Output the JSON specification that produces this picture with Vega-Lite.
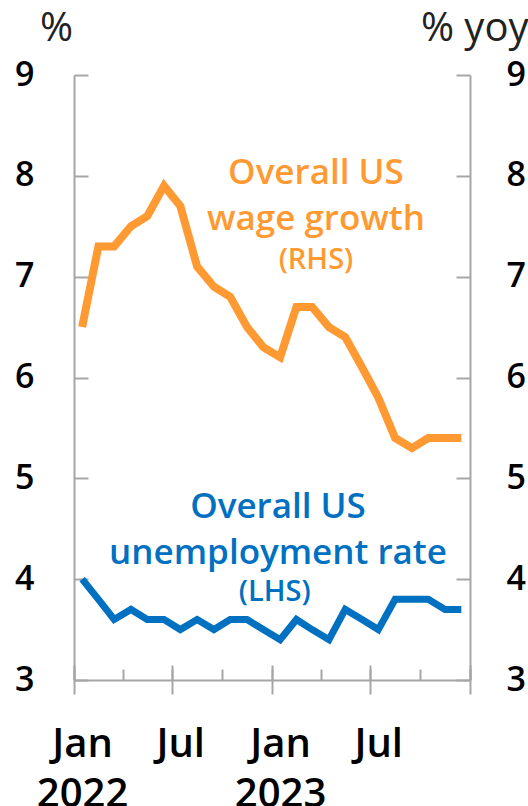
{
  "$schema": "https://vega.github.io/schema/vega-lite/v6.json",
  "width": 396,
  "height": 605,
  "autosize": {"type": "none"},
  "padding": {"left": 74, "top": 75, "right": 58, "bottom": 126},
  "background": "white",
  "config": {
    "view": {"stroke": null},
    "font": "Open Sans",
    "axis": {"grid": false, "domainColor": "#A6A6A6", "tickColor": "#A6A6A6", "domainWidth": 2, "tickWidth": 2, "labelColor": "#000000", "titleColor": "#222222"}
  },
  "datasets": {
    "series": [
      {"month": "2022-01-16", "unemployment": 4.0, "wage": 6.5},
      {"month": "2022-02-15", "unemployment": 3.8, "wage": 7.3},
      {"month": "2022-03-16", "unemployment": 3.6, "wage": 7.3},
      {"month": "2022-04-16", "unemployment": 3.7, "wage": 7.5},
      {"month": "2022-05-16", "unemployment": 3.6, "wage": 7.6},
      {"month": "2022-06-16", "unemployment": 3.6, "wage": 7.9},
      {"month": "2022-07-16", "unemployment": 3.5, "wage": 7.7},
      {"month": "2022-08-16", "unemployment": 3.6, "wage": 7.1},
      {"month": "2022-09-16", "unemployment": 3.5, "wage": 6.9},
      {"month": "2022-10-16", "unemployment": 3.6, "wage": 6.8},
      {"month": "2022-11-16", "unemployment": 3.6, "wage": 6.5},
      {"month": "2022-12-16", "unemployment": 3.5, "wage": 6.3},
      {"month": "2023-01-16", "unemployment": 3.4, "wage": 6.2},
      {"month": "2023-02-15", "unemployment": 3.6, "wage": 6.7},
      {"month": "2023-03-16", "unemployment": 3.5, "wage": 6.7},
      {"month": "2023-04-16", "unemployment": 3.4, "wage": 6.5},
      {"month": "2023-05-16", "unemployment": 3.7, "wage": 6.4},
      {"month": "2023-06-16", "unemployment": 3.6, "wage": 6.1},
      {"month": "2023-07-16", "unemployment": 3.5, "wage": 5.8},
      {"month": "2023-08-16", "unemployment": 3.8, "wage": 5.4},
      {"month": "2023-09-16", "unemployment": 3.8, "wage": 5.3},
      {"month": "2023-10-16", "unemployment": 3.8, "wage": 5.4},
      {"month": "2023-11-16", "unemployment": 3.7, "wage": 5.4},
      {"month": "2023-12-16", "unemployment": 3.7, "wage": 5.4}
    ]
  },
  "layer": [
    {
      "data": {"name": "series"},
      "mark": {"type": "line", "color": "#0070C0", "strokeWidth": 7, "strokeJoin": "miter"},
      "encoding": {
        "x": {
          "field": "month", "type": "temporal",
          "scale": {"domain": [{"year": 2022, "month": 1, "date": 1}, {"year": 2024, "month": 1, "date": 1}]},
          "axis": {
            "orient": "bottom",
            "values": [{"year": 2022, "month": 1, "date": 1}, {"year": 2022, "month": 7, "date": 1}, {"year": 2023, "month": 1, "date": 1}, {"year": 2023, "month": 7, "date": 1}, {"year": 2024, "month": 1, "date": 1}],
            "tickSize": 14,
            "labelExpr": "year(datum.value) >= 2024 ? '' : (month(datum.value) == 0 ? ['Jan', timeFormat(datum.value, '%Y')] : 'Jul')",
            "labelOffset": 8,
            "labelAlign": "center",
            "labelBaseline": "top",
            "labelPadding": 30,
            "labelFontSize": 40,
            "labelFontWeight": 600,
            "labelLineHeight": 50,
            "labelOverlap": false,
            "labelFlush": false,
            "title": null
          }
        },
        "y": {
          "field": "unemployment", "type": "quantitative",
          "scale": {"domain": [3, 9], "nice": false, "zero": false},
          "axis": {
            "orient": "left",
            "values": [3, 4, 5, 6, 7, 8, 9],
            "tickSize": -14,
            "labelPadding": 54,
            "labelAlign": "right",
            "labelBaseline": "middle",
            "labelFontSize": 34,
            "labelFontWeight": 600,
            "title": "%",
            "titleAngle": 0,
            "titleX": -18,
            "titleY": -47,
            "titleAlign": "center",
            "titleBaseline": "middle",
            "titleFontSize": 40,
            "titleFontWeight": "normal"
          }
        }
      }
    },
    {
      "data": {"name": "series"},
      "mark": {"type": "line", "color": "#FF9A33", "strokeWidth": 8, "strokeJoin": "miter"},
      "encoding": {
        "x": {
          "field": "month", "type": "temporal",
          "scale": {"domain": [{"year": 2022, "month": 1, "date": 1}, {"year": 2024, "month": 1, "date": 1}]},
          "axis": {
            "orient": "bottom",
            "values": [{"year": 2022, "month": 1, "date": 1}, {"year": 2022, "month": 4, "date": 1}, {"year": 2022, "month": 7, "date": 1}, {"year": 2022, "month": 10, "date": 1}, {"year": 2023, "month": 1, "date": 1}, {"year": 2023, "month": 4, "date": 1}, {"year": 2023, "month": 7, "date": 1}, {"year": 2023, "month": 10, "date": 1}, {"year": 2024, "month": 1, "date": 1}],
            "tickSize": -11,
            "labels": false,
            "domain": false,
            "title": null
          }
        },
        "y": {
          "field": "wage", "type": "quantitative",
          "scale": {"domain": [3, 9], "nice": false, "zero": false},
          "axis": {
            "orient": "right",
            "values": [3, 4, 5, 6, 7, 8, 9],
            "tickSize": -14,
            "labelPadding": 50,
            "labelAlign": "left",
            "labelBaseline": "middle",
            "labelFontSize": 34,
            "labelFontWeight": 600,
            "title": "% yoy",
            "titleAngle": 0,
            "titleX": 58,
            "titleY": -47,
            "titleAlign": "right",
            "titleBaseline": "middle",
            "titleFontSize": 40,
            "titleFontWeight": "normal"
          }
        }
      }
    },
    {
      "data": {"values": [{}]},
      "mark": {"type": "text", "text": ["Overall US", "wage growth"], "lineHeight": 46, "fontSize": 35, "fontWeight": 600, "color": "#FF9A33", "align": "center", "baseline": "middle"},
      "encoding": {
        "x": {
          "datum": {"year": 2023, "month": 3, "date": 23}, "type": "temporal",
          "scale": {"domain": [{"year": 2022, "month": 1, "date": 1}, {"year": 2024, "month": 1, "date": 1}]},
          "axis": {
            "orient": "bottom",
            "values": [{"year": 2022, "month": 1, "date": 1}, {"year": 2022, "month": 7, "date": 1}, {"year": 2023, "month": 1, "date": 1}, {"year": 2023, "month": 7, "date": 1}, {"year": 2024, "month": 1, "date": 1}],
            "tickSize": -15,
            "labels": false,
            "domain": false,
            "title": null
          }
        },
        "y": {"datum": 8.03, "type": "quantitative", "scale": {"domain": [3, 9]}, "axis": null}
      }
    },
    {
      "data": {"values": [{}]},
      "mark": {"type": "text", "text": "(RHS)", "fontSize": 29, "fontWeight": 600, "color": "#FF9A33", "align": "center", "baseline": "middle"},
      "encoding": {
        "x": {"datum": {"year": 2023, "month": 3, "date": 23}, "type": "temporal", "scale": {"domain": [{"year": 2022, "month": 1, "date": 1}, {"year": 2024, "month": 1, "date": 1}]}, "axis": null},
        "y": {"datum": 7.17, "type": "quantitative", "scale": {"domain": [3, 9]}, "axis": null}
      }
    },
    {
      "data": {"values": [{}]},
      "mark": {"type": "text", "text": ["Overall US", "unemployment rate"], "lineHeight": 46, "fontSize": 35, "fontWeight": 600, "color": "#0070C0", "align": "center", "baseline": "middle"},
      "encoding": {
        "x": {"datum": {"year": 2023, "month": 1, "date": 12}, "type": "temporal", "scale": {"domain": [{"year": 2022, "month": 1, "date": 1}, {"year": 2024, "month": 1, "date": 1}]}, "axis": null},
        "y": {"datum": 4.72, "type": "quantitative", "scale": {"domain": [3, 9]}, "axis": null}
      }
    },
    {
      "data": {"values": [{}]},
      "mark": {"type": "text", "text": "(LHS)", "fontSize": 29, "fontWeight": 600, "color": "#0070C0", "align": "center", "baseline": "middle"},
      "encoding": {
        "x": {"datum": {"year": 2023, "month": 1, "date": 6}, "type": "temporal", "scale": {"domain": [{"year": 2022, "month": 1, "date": 1}, {"year": 2024, "month": 1, "date": 1}]}, "axis": null},
        "y": {"datum": 3.87, "type": "quantitative", "scale": {"domain": [3, 9]}, "axis": null}
      }
    }
  ],
  "resolve": {"axis": {"x": "independent", "y": "independent"}}
}
